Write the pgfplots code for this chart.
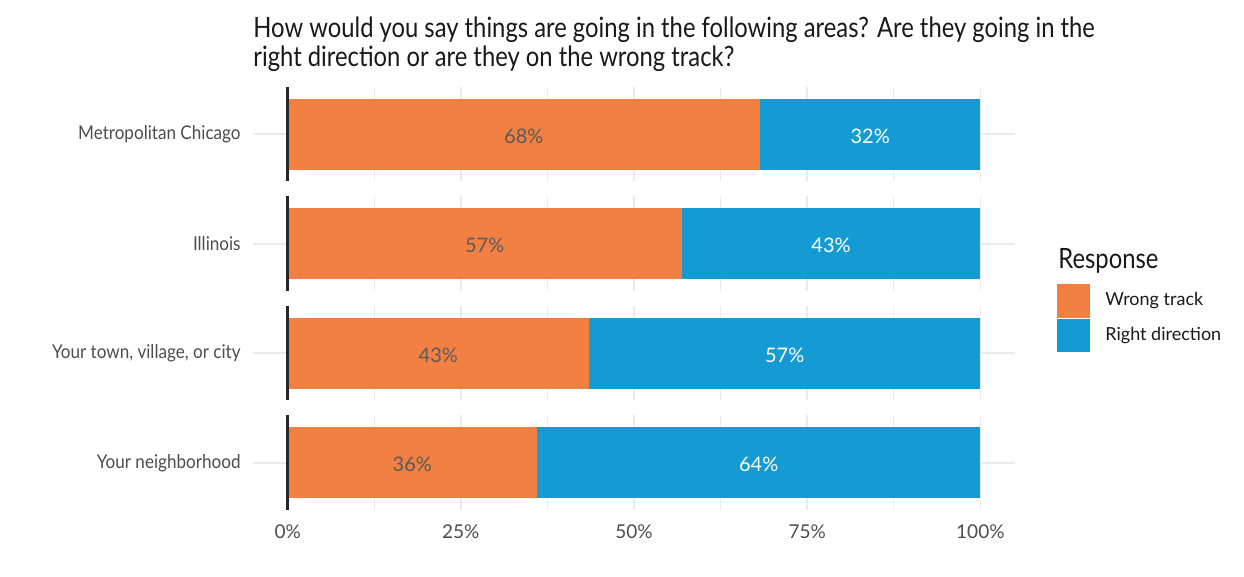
\documentclass[border=0pt]{standalone}
\usepackage{fontspec}
\setmainfont{Lato}
\newfontfamily\condfont[FakeStretch=0.85]{Lato}
\newfontfamily\semicond[FakeStretch=0.9]{Lato}
\usepackage{pgfplots}
\pgfplotsset{compat=1.18}
\definecolor{wrongc}{RGB}{243,128,67}
\definecolor{rightc}{RGB}{21,155,211}
\definecolor{gridc}{RGB}{235,235,235}
\definecolor{txt}{RGB}{77,77,77}
\definecolor{lbl}{RGB}{90,90,90}
\newcommand{\townlabel}{Your town, village, or city}

\pgfplotsset{
  panel/.style={
    scale only axis, width=381pt, height=47.25pt,
    xmin=-5, xmax=105, ymin=0.4, ymax=1.6,
    axis line style={draw=none},
    major tick length=0pt, minor tick length=0pt,
    xtick={0,25,50,75,100}, minor xtick={12.5,37.5,62.5,87.5},
    ytick={1},
    xmajorgrids, xminorgrids, ymajorgrids,
    major grid style={gridc, line width=0.8pt},
    minor grid style={gridc, line width=0.45pt},
    xticklabels={},
    yticklabel style={font=\semicond\fontsize{9.5}{11}\selectfont, text=txt, inner sep=0pt, xshift=-6pt},
    xticklabel style={font=\fontsize{9.5}{11}\selectfont, text=txt, inner sep=0pt, anchor=north, yshift=-7pt},
    anchor=north west,
    clip=false,
  },
  barR/.style={xbar, fill=rightc, draw=none, bar width=0.9},
  barW/.style={xbar, fill=wrongc, draw=none, bar width=0.9},
  vline/.style={black!85, line width=1.2pt},
  labD/.style={only marks, mark=none, nodes near coords, point meta=explicit symbolic,
    nodes near coords style={anchor=center, yshift=-0.8pt, text=lbl, font=\fontsize{10}{12}\selectfont}},
  labL/.style={only marks, mark=none, nodes near coords, point meta=explicit symbolic,
    nodes near coords style={anchor=center, yshift=-0.8pt, text=white, font=\fontsize{10}{12}\selectfont}},
}

\begin{document}
\begin{tikzpicture}
\path[use as bounding box] (0,0) rectangle (622pt,-288.5pt);

\node[anchor=base west, inner sep=0pt, text=black!90, font=\condfont\fontsize{14}{16}\selectfont] at (126.5pt,-19pt)
  {How would you say things are going in the following areas? Are they going in the};
\node[anchor=base west, inner sep=0pt, text=black!90, font=\condfont\fontsize{14}{16}\selectfont] at (126.5pt,-33.5pt)
  {right direction or are they on the wrong track?};

% Panel 1
\begin{axis}[panel, at={(126.5pt,-43.5pt)}, yticklabels={Metropolitan Chicago}]
\addplot[barR] coordinates {(100,1)};
\addplot[barW] coordinates {(68.2,1)};
\addplot[vline] coordinates {(0,0.4) (0,1.6)};
\addplot[labD] coordinates {(34.1,1) [68\%]};
\addplot[labL] coordinates {(84.1,1) [32\%]};
\end{axis}

% Panel 2
\begin{axis}[panel, at={(126.5pt,-98.25pt)}, yticklabels={Illinois}]
\addplot[barR] coordinates {(100,1)};
\addplot[barW] coordinates {(56.9,1)};
\addplot[vline] coordinates {(0,0.4) (0,1.6)};
\addplot[labD] coordinates {(28.45,1) [57\%]};
\addplot[labL] coordinates {(78.45,1) [43\%]};
\end{axis}

% Panel 3
\begin{axis}[panel, at={(126.5pt,-153pt)}, yticklabels={\townlabel}]
\addplot[barR] coordinates {(100,1)};
\addplot[barW] coordinates {(43.5,1)};
\addplot[vline] coordinates {(0,0.4) (0,1.6)};
\addplot[labD] coordinates {(21.75,1) [43\%]};
\addplot[labL] coordinates {(71.75,1) [57\%]};
\end{axis}

% Panel 4
\begin{axis}[panel, at={(126.5pt,-207.75pt)}, yticklabels={Your neighborhood},
  xticklabels={0\%,25\%,50\%,75\%,100\%}]
\addplot[barR] coordinates {(100,1)};
\addplot[barW] coordinates {(36.0,1)};
\addplot[vline] coordinates {(0,0.4) (0,1.6)};
\addplot[labD] coordinates {(18.0,1) [36\%]};
\addplot[labL] coordinates {(68.0,1) [64\%]};
\end{axis}

% Legend
\node[anchor=base west, inner sep=0pt, text=black!90, font=\condfont\fontsize{14}{16}\selectfont] at (529pt,-134.5pt) {Response};
\fill[wrongc] (528.5pt,-142pt) rectangle (545pt,-159pt);
\fill[rightc] (528.5pt,-159.5pt) rectangle (545pt,-176pt);
\node[anchor=west, inner sep=0pt, text=black!90, font=\fontsize{9}{11}\selectfont] at (552.5pt,-150.5pt) {Wrong track};
\node[anchor=west, inner sep=0pt, text=black!90, font=\fontsize{9}{11}\selectfont] at (552.5pt,-168pt) {Right direction};
\end{tikzpicture}
\end{document}
